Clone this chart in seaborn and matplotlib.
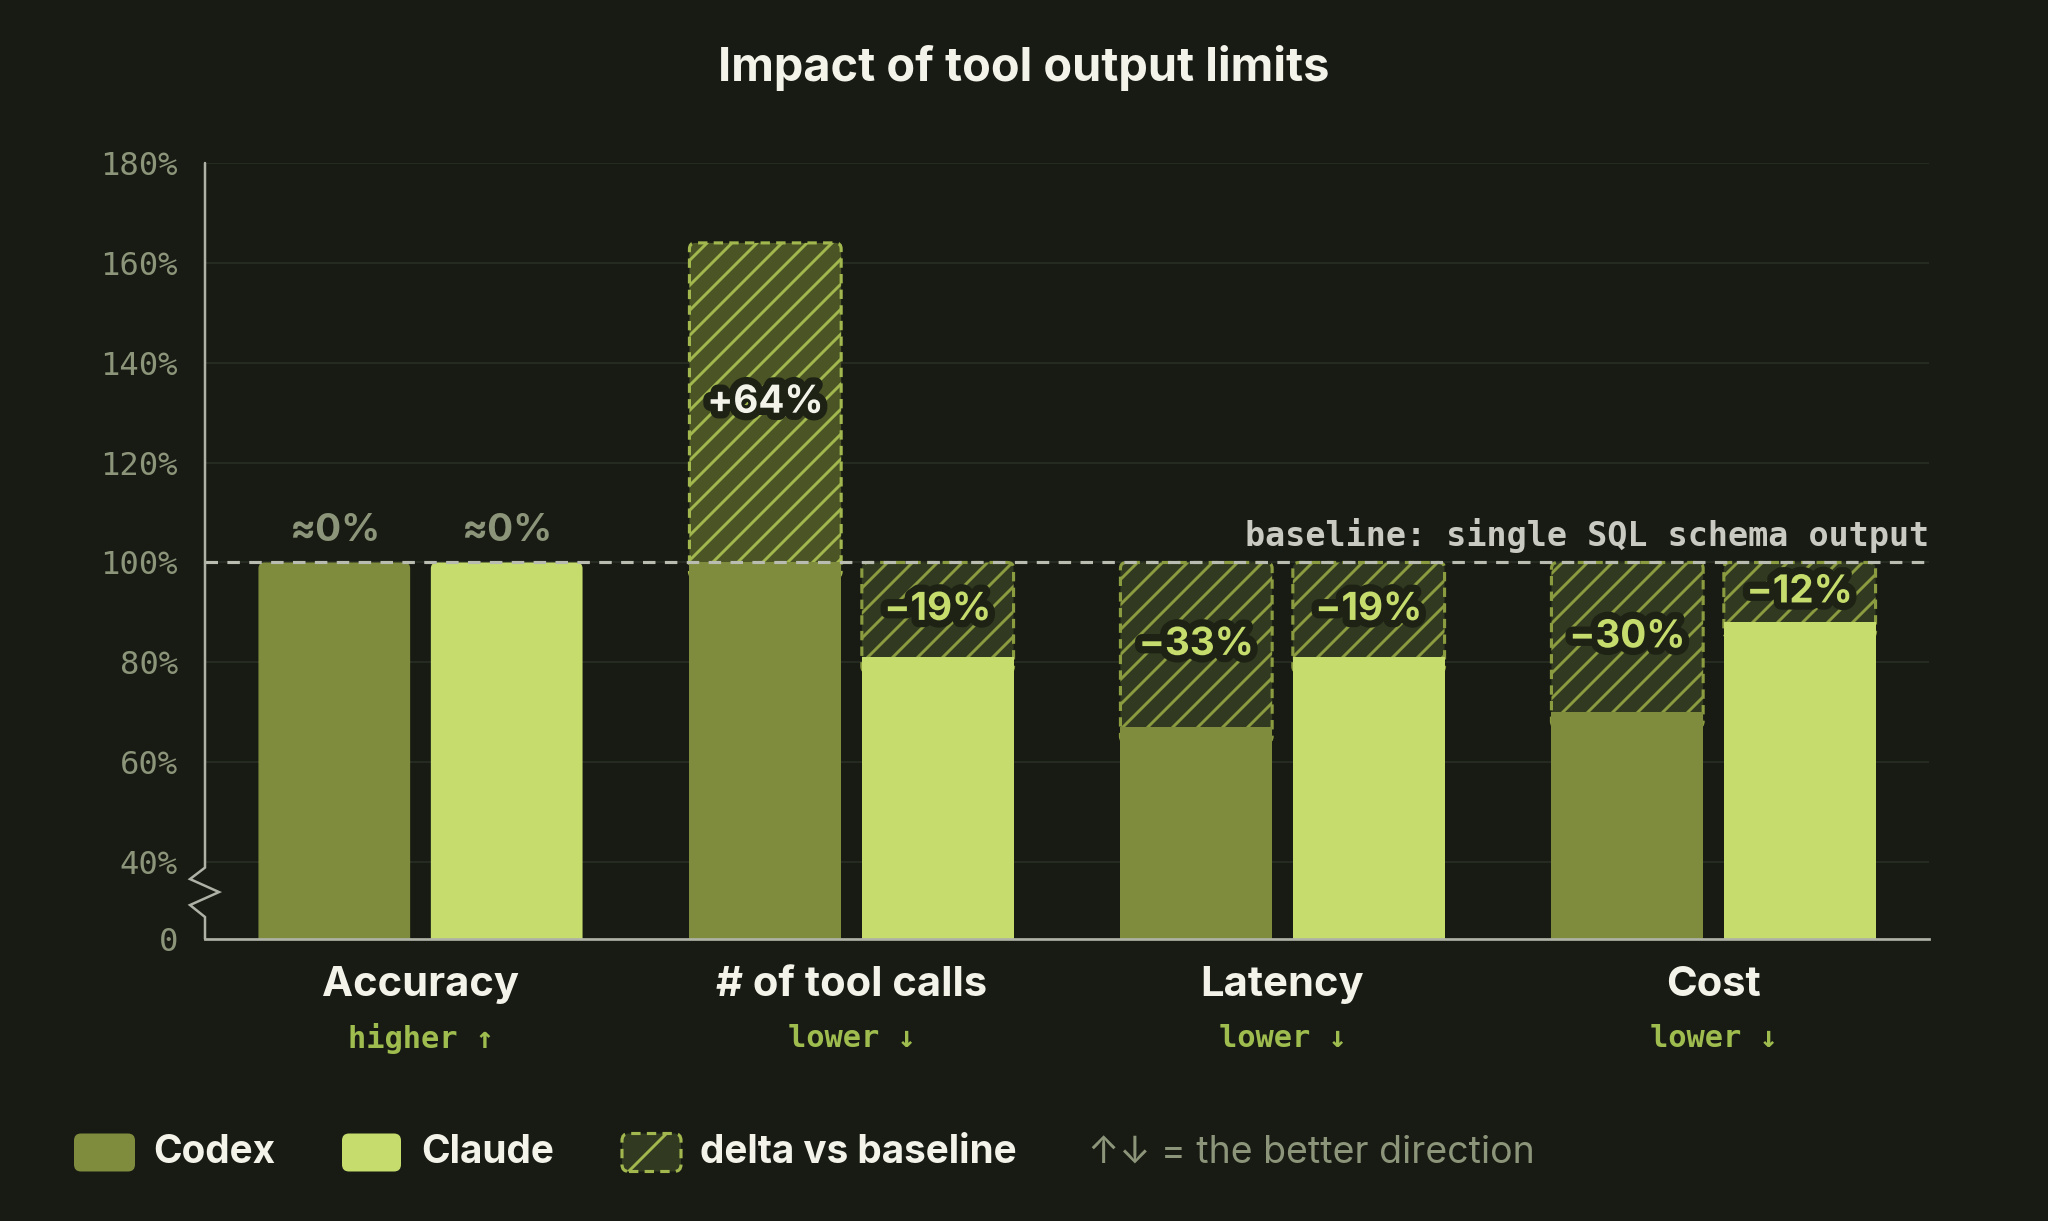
import seaborn as sns
import matplotlib.pyplot as plt
import matplotlib.patheffects as pe
import matplotlib.transforms as mtransforms
from matplotlib.patches import FancyBboxPatch
import pandas as pd

# data
metrics = ['Accuracy', '# of tool calls', 'Latency', 'Cost']
directions = ['higher ↑', 'lower ↓', 'lower ↓', 'lower ↓']
models = ['Codex', 'Claude']
codex_pct = [100, 164, 67, 70]
claude_pct = [100, 81, 81, 88]
codex_labels = ['≈0%', '+64%', '−33%', '−30%']
claude_labels = ['≈0%', '−19%', '−19%', '−12%']
ytick_vals = [40, 60, 80, 100, 120, 140, 160, 180]

# colours
BG = '#171b13'
GRID = '#262b21'
AXIS = '#aeb2a6'
CODEX = '#7f8b3d'
CLAUDE = '#c6dd6d'
HATCH_POS_FILL = '#4a5425'
HATCH_POS_LINE = '#a2b84e'
HATCH_NEG_FILL = '#313a20'
HATCH_NEG_LINE = '#8a9b40'
TXT = '#f3f3ea'
MUTED = '#8c9479'
SUB = '#9fbd4f'

sns.set_style('dark', rc={'axes.facecolor': BG, 'figure.facecolor': BG})
plt.rcParams['font.family'] = ['Inter', 'DejaVu Sans']
plt.rcParams['hatch.linewidth'] = 1.4

df = pd.DataFrame({
    'metric': metrics * 2,
    'model': ['Codex'] * 4 + ['Claude'] * 4,
    'value': codex_pct + claude_pct,
    'label': codex_labels + claude_labels,
})
df['solid'] = df['value'].clip(upper=100)

W, H = 2048, 1221
fig = plt.figure(figsize=(W / 150, H / 150), dpi=150, facecolor=BG)
ax = fig.add_axes([205 / W, 1 - 939 / H, (1929 - 205) / W, (939 - 163) / H])

ybot = 24.6
sns.barplot(data=df, x='metric', y='solid', hue='model', order=metrics,
            hue_order=models, palette=[CODEX, CLAUDE], width=0.8, gap=0.12,
            saturation=1, linewidth=0, legend=False, ax=ax, zorder=3)
ax.set_xlim(-0.5, 3.5)
ax.set_ylim(ybot, 180)

# rounding in data units
px_x = 4 / (1929 - 205)
px_y = (180 - ybot) / (939 - 163)
rad = 6 * px_x
asp = px_y / px_x

lab_fx = [pe.withStroke(linewidth=7, foreground='#1d2215')]
for model, cont in zip(models, ax.containers):
    sub = df[df.model == model].set_index('metric').loc[metrics]
    for bar, (metric, row) in zip(cont, sub.iterrows()):
        x0, w = bar.get_x(), bar.get_width()
        v = row['value']
        if v == 100:
            bar.set_visible(False)
            ax.add_patch(FancyBboxPatch((x0, 0), w, 100,
                                        boxstyle=f'round,pad=0,rounding_size={rad}',
                                        mutation_aspect=asp, fc=bar.get_facecolor(),
                                        lw=0, zorder=3))
            ax.text(x0 + w / 2, 106.3, row['label'], ha='center', va='center',
                    fontsize=18.5, fontweight='bold', color=MUTED, zorder=6)
        else:
            lo, hi = min(v, 100), max(v, 100)
            fill, line = (HATCH_POS_FILL, HATCH_POS_LINE) if v > 100 else (HATCH_NEG_FILL, HATCH_NEG_LINE)
            ax.add_patch(FancyBboxPatch((x0, lo - 3), w, hi - lo + 3,
                                        boxstyle=f'round,pad=0,rounding_size={rad}',
                                        mutation_aspect=asp, fc=fill, ec=line,
                                        hatch='//', lw=1.5, ls=(0, (3, 2)), zorder=2))
            ax.text(x0 + w / 2, (lo + hi) / 2, row['label'], ha='center', va='center',
                    fontsize=18.5, fontweight='bold',
                    color=TXT if v > 100 else CLAUDE, path_effects=lab_fx, zorder=6)

# baseline
ax.axhline(100, color='#b9bcb1', lw=1.5, ls=(0, (4, 3)), zorder=5)
trans = mtransforms.blended_transform_factory(ax.transAxes, ax.transData)
ax.text(1.0, 105.5, 'baseline: single SQL schema output', transform=trans,
        ha='right', va='center', family='DejaVu Sans Mono', fontweight='bold',
        fontsize=16, color='#c9cac1', zorder=6)

# axes styling
ax.set_yticks([ybot] + ytick_vals)
ax.set_yticklabels(['0'] + [f'{v}%' for v in ytick_vals], family='DejaVu Sans Mono',
                   fontsize=15.5, color=MUTED)
ax.tick_params(axis='y', length=0, pad=13)
ax.set_xticks(range(len(metrics)))
ax.set_xticklabels(metrics, fontsize=20, fontweight='bold', color=TXT)
ax.tick_params(axis='x', length=0, pad=13)
ax.set_xlabel('')
ax.set_ylabel('')
ax.grid(axis='y', color=GRID, lw=1.0, zorder=0)
ax.grid(axis='x', visible=False)
ax.set_axisbelow(True)
for s in ['left', 'top', 'right']:
    ax.spines[s].set_visible(False)
ax.spines['bottom'].set_color(AXIS)
ax.spines['bottom'].set_linewidth(1.3)
ax.spines['bottom'].set_zorder(7)

# y axis with break mark
d = 1 / (1929 - 205)
xs = [0, 0, -15 * d, 14 * d, -15 * d, 0, 0]
ys = [180, 38.9, 36.6, 34.0, 31.4, 29.0, ybot]
ax.plot(xs, ys, transform=trans, clip_on=False, color=AXIS, lw=1.2,
        solid_joinstyle='miter', zorder=7)

# direction sub labels
xtrans = mtransforms.blended_transform_factory(ax.transData, ax.transAxes)
for i, t in enumerate(directions):
    ax.text(i, -0.1276, t, transform=xtrans, ha='center', va='center',
            family='DejaVu Sans Mono', fontweight='bold', fontsize=14.6, color=SUB)

# title
fig.text(0.5, 1 - 68 / H, 'Impact of tool output limits', ha='center', va='center',
         fontsize=22.5, fontweight='bold', color=TXT)

# legend
ly = 1 - 1152.5 / H
sq_h = 38 / H
fr = 7 / W
fasp = W / H
def legend_box(x0, x1, **kw):
    fig.add_artist(FancyBboxPatch((x0 / W, ly - sq_h / 2), (x1 - x0) / W, sq_h,
                                  boxstyle=f'round,pad=0,rounding_size={fr}',
                                  mutation_aspect=fasp, transform=fig.transFigure, **kw))

legend_box(74, 135, fc=CODEX, lw=0)
fig.text(153 / W, ly, 'Codex', ha='left', va='center', fontsize=18.6, fontweight='bold', color=TXT)
legend_box(342, 401, fc=CLAUDE, lw=0)
fig.text(421 / W, ly, 'Claude', ha='left', va='center', fontsize=18.6, fontweight='bold', color=TXT)
legend_box(622, 681, fc=HATCH_NEG_FILL, ec=HATCH_POS_LINE, hatch='/', lw=1.5, ls=(0, (3, 2)))
fig.text(700 / W, ly, 'delta vs baseline', ha='left', va='center', fontsize=18.6,
         fontweight='bold', color=TXT)
fig.text(1088 / W, ly, '↑↓ = the better direction', ha='left', va='center', fontsize=18,
         color=MUTED, family=['Inter', 'DejaVu Sans'])

fig.savefig('out.png', dpi=150, facecolor=BG)
